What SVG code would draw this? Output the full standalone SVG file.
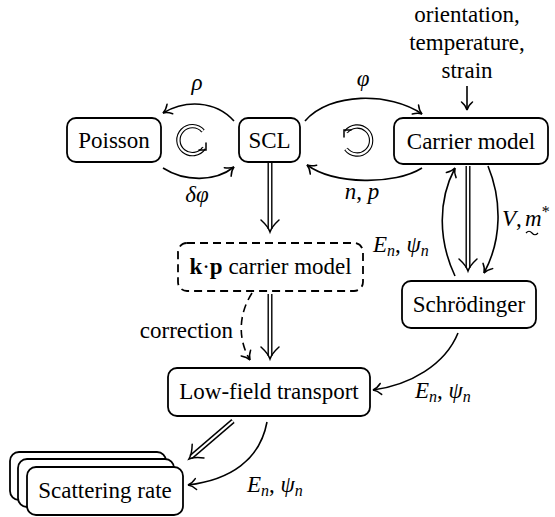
<svg xmlns="http://www.w3.org/2000/svg" xmlns:xlink="http://www.w3.org/1999/xlink" width="555" height="517" viewBox="0 0 555 517" font-family="Liberation Serif, Times New Roman, DejaVu Serif, Noto Serif, serif">
<style>
text{font-size:23px;fill:#000}
.c{text-anchor:middle}
.i{font-style:italic}
.box{fill:#fff;stroke:#000;stroke-width:1.8}
.dash{stroke-dasharray:8,5}
.ln{fill:none;stroke:#000;stroke-width:1.6}
.dl{fill:none;stroke:#000;stroke-width:5}
.dw{fill:none;stroke:#fff;stroke-width:2.2}
.hd{fill:none;stroke:#000;stroke-width:1.5;stroke-linecap:round}
</style>
<defs>
<marker id="ah" markerUnits="userSpaceOnUse" markerWidth="16" markerHeight="16" viewBox="-10 -8 12 16" refX="0" refY="0" orient="auto">
<path d="M-8,-5.5 C-5,-2 -2,-0.5 0,0 C-2,0.5 -5,2 -8,5.5" fill="none" stroke="#000" stroke-width="1.5" stroke-linecap="round"/>
</marker>
<path id="dh" class="hd" d="M-12,-9 C-7,-3.5 -3,-1 0,0 C-3,1 -7,3.5 -12,9"/>
</defs>

<g id="node-poisson"><rect class="box" x="67" y="118" width="94" height="44" rx="9"/><text class="c" x="114" y="148">Poisson</text></g>
<g id="node-scl"><rect class="box" x="239" y="118" width="61" height="44" rx="9"/><text class="c" x="269.5" y="148">SCL</text></g>
<g id="node-carrier"><rect class="box" x="394" y="118" width="154" height="46" rx="9"/><text class="c" x="471" y="149">Carrier model</text></g>
<g id="node-kp"><rect class="box dash" x="178" y="243" width="185" height="48" rx="9"/><text class="c" x="270.5" y="274"><tspan font-weight="bold">k</tspan>·<tspan font-weight="bold">p</tspan> carrier model</text></g>
<g id="node-schrodinger"><rect class="box" x="402" y="281" width="134" height="47" rx="9"/><text class="c" x="469" y="312">Schrödinger</text></g>
<g id="node-lowfield"><rect class="box" x="168" y="368" width="202" height="48" rx="9"/><text class="c" x="269" y="399">Low-field transport</text></g>
<g id="node-scattering">
<rect class="box" x="10" y="452" width="156" height="48" rx="9"/>
<rect class="box" x="18" y="459" width="156" height="48" rx="9"/>
<rect class="box" x="27" y="467" width="156" height="48" rx="9"/>
<text class="c" x="105" y="498">Scattering rate</text>
</g>
<g id="node-params"><text class="c" x="467" y="22">orientation,</text><text class="c" x="467" y="50">temperature,</text><text class="c" x="467" y="78">strain</text></g>

<g id="connectors">
<path class="ln" d="M234,121 C215,100 185,100 163,113" marker-end="url(#ah)"/>
<path class="ln" d="M163,168 C185,182 215,182 234,167" marker-end="url(#ah)"/>
<path class="ln" d="M305,121 C330,92 390,92 422,114" marker-end="url(#ah)"/>
<path class="ln" d="M422,168 C395,185 335,185 307,165" marker-end="url(#ah)"/>
<path class="ln" d="M467,86 L467,110" marker-end="url(#ah)"/>
<path class="ln dash" d="M252,293 C238,315 238,340 250,360" marker-end="url(#ah)"/>
<path class="ln" d="M488,166 C502,200 502,240 484,273" marker-end="url(#ah)"/>
<path class="ln" d="M455,276 C438,240 438,200 455,168" marker-end="url(#ah)"/>
<path class="ln" d="M458,333 C445,365 410,385 373,390" marker-end="url(#ah)"/>
<path class="ln" d="M267,422 C260,460 230,480 188,485" marker-end="url(#ah)"/>
<path class="dl" style="stroke-width:4.4" d="M203,131 A14,14 0 1 0 204,148"/>
<path class="dw" d="M203,131 A14,14 0 1 0 204,148"/>
<path class="hd" d="M199,150 L206,150 L206,143"/>
<path class="dl" style="stroke-width:4.4" d="M346,149 A14,14 0 1 0 346,132"/>
<path class="dw" d="M346,149 A14,14 0 1 0 346,132"/>
<path class="hd" d="M351,130 L344,130 L344,137"/>
<path class="dl" d="M270,163 L270,229"/><path class="dw" d="M270,163 L270,229"/><use xlink:href="#dh" transform="translate(270,232) rotate(90)"/>
<path class="dl" d="M270,294 L270,356"/><path class="dw" d="M270,294 L270,356"/><use xlink:href="#dh" transform="translate(270,359) rotate(90)"/>
<path class="dl" d="M468,166 L468,268"/><path class="dw" d="M468,166 L468,268"/><use xlink:href="#dh" transform="translate(468,271) rotate(90)"/>
<path class="dl" d="M233,421 L191,457"/><path class="dw" d="M233,421 L191,457"/><use xlink:href="#dh" transform="translate(189,459) rotate(139.2)"/>
</g>

<g id="labels">
<text class="c i" x="197" y="90">ρ</text>
<text class="c i" x="197" y="202">δφ</text>
<text class="c i" x="363" y="86">φ</text>
<text class="c" x="362" y="199"><tspan class="i">n</tspan>, <tspan class="i">p</tspan></text>
<text x="373" y="252"><tspan class="i">E</tspan><tspan class="i" font-size="16" dy="4">n</tspan><tspan dy="-4">, </tspan><tspan class="i">ψ</tspan><tspan class="i" font-size="16" dy="4">n</tspan></text>
<text x="502" y="226"><tspan class="i">V</tspan>,</text>
<text x="525" y="226"><tspan class="i">m</tspan><tspan font-size="16" dy="-9">*</tspan></text>
<path d="M526,233 q3,-3.5 6,0 t6,0" fill="none" stroke="#000" stroke-width="1.2"/>
<text x="415" y="398"><tspan class="i">E</tspan><tspan class="i" font-size="16" dy="4">n</tspan><tspan dy="-4">, </tspan><tspan class="i">ψ</tspan><tspan class="i" font-size="16" dy="4">n</tspan></text>
<text x="247" y="492"><tspan class="i">E</tspan><tspan class="i" font-size="16" dy="4">n</tspan><tspan dy="-4">, </tspan><tspan class="i">ψ</tspan><tspan class="i" font-size="16" dy="4">n</tspan></text>
<text x="233" y="338" text-anchor="end">correction</text>
</g>
</svg>
